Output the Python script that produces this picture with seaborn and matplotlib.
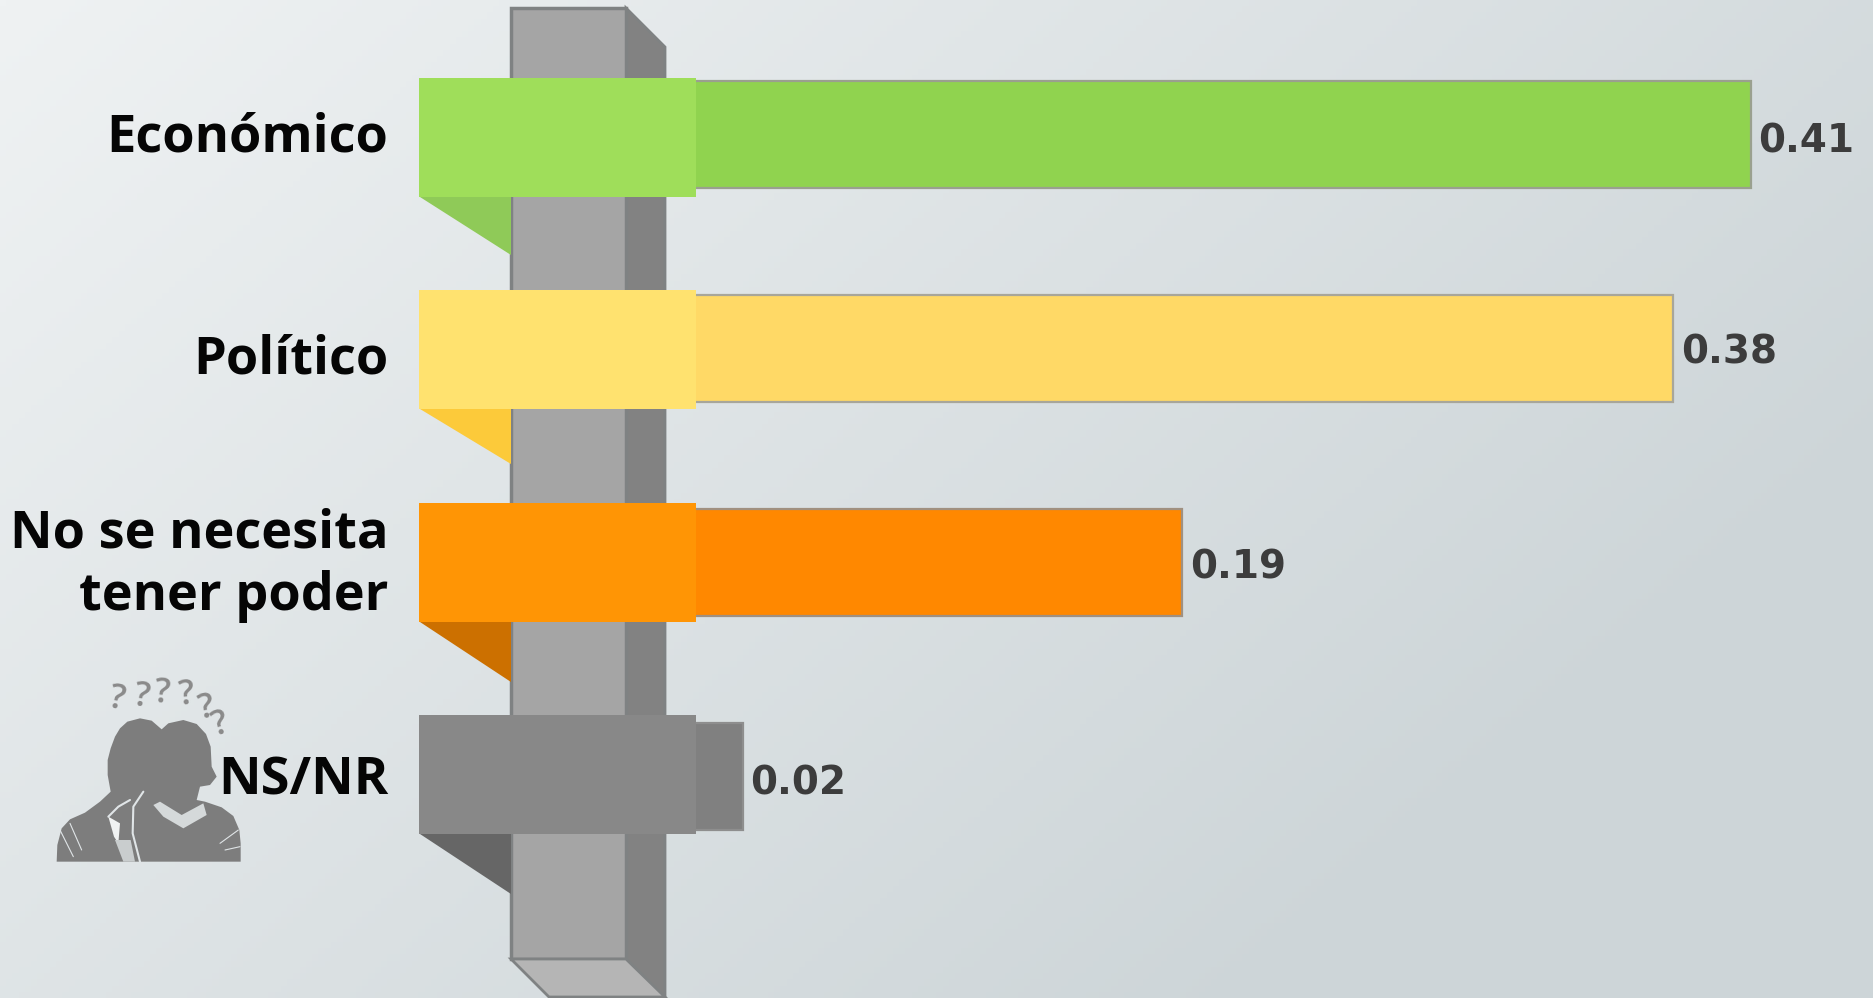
import numpy as np
import pandas as pd
import seaborn as sns
import matplotlib.pyplot as plt
from matplotlib.patches import Polygon, Rectangle
from matplotlib.transforms import ScaledTranslation

categorias = ["Económico", "Político", "No se necesita\ntener poder", "NS/NR"]
valores = [0.41, 0.38, 0.19, 0.02]
col_barra = ["#90d34f", "#ffd966", "#ff8800", "#808080"]
col_borde = ["#9aa08f", "#a8a69a", "#a09080", "#8e8e8e"]
col_cinta = ["#9fde5a", "#ffe26f", "#ff9505", "#888888"]
col_pliegue = ["#8fca58", "#fcca3a", "#cc7000", "#666666"]
cinta_top = [78, 290, 503, 715]
pliegue_alto = [58, 55, 60, 60]
ajuste_label = [-3, 5, -8, -2]
ajuste_valor = [-5, -3, -3.5, -5]

W, H = 1873, 998
X0, ESC = 691, 2585
sns.set_theme(style="white")
plt.rcParams["font.family"] = ["Open Sans", "DejaVu Sans"]

df = pd.DataFrame({"categoria": categorias, "valor": valores})
fig = plt.figure(figsize=(W / 100, H / 100), dpi=100)


def capa(pos, z):
    a = fig.add_axes(pos, zorder=z)
    a.patch.set_alpha(0)
    a.set_axis_off()
    return a


# fondo y columna, en pixeles
bg = capa([0, 0, 1, 1], 0)
xx, yy = np.meshgrid(np.linspace(0, 1, 300), np.linspace(0, 1, 160))
t = np.clip((xx * 0.62 + yy * 0.38) / 0.8, 0, 1)
c0, c1 = np.array([0xef, 0xf2, 0xf3]) / 255, np.array([0xcd, 0xd5, 0xd8]) / 255
img = c0 + (c1 - c0) * t[..., None]
bg.imshow(img, extent=(0, W, H, 0), aspect="auto", zorder=0)
bg.set_xlim(0, W)
bg.set_ylim(H, 0)

borde = "#7f8283"
bg.add_patch(Polygon([(626, 8), (665, 47), (665, 998), (626, 998)], fc="#828282", ec=borde, lw=2, zorder=1))
bg.add_patch(Rectangle((511, 8), 115, 951, fc="#a5a5a5", ec=borde, lw=2.5, zorder=2))
bg.add_patch(Polygon([(511, 959), (626, 959), (665, 997), (549, 997)], fc="#b5b5b5", ec=borde, lw=2, zorder=3))

for top, alto, c in zip(cinta_top, pliegue_alto, col_pliegue):
    b = top + 119
    bg.add_patch(Polygon([(420, b), (511, b), (511, b + alto)], fc=c, ec="none", zorder=4))


# icono NS/NR (coordenadas de la silueta)
def pt(lst):
    return [(40 + x / 3, 660 + y / 3) for x, y in lst]


gris = "#7d7d7d"
fondo = "#e0e5e7"
sil = [(203, 300), (212, 265), (225, 230), (240, 205), (262, 185), (300, 175), (335, 182), (365, 208),
       (385, 190), (430, 180), (470, 192), (498, 222), (512, 260), (515, 320), (530, 350), (510, 375),
       (480, 380), (470, 420), (495, 425), (545, 442), (580, 468), (598, 510), (602, 550), (602, 605),
       (50, 605), (52, 555), (65, 505), (90, 478), (135, 458), (180, 425), (212, 395), (203, 345)]
bg.add_patch(Polygon(pt(sil), fc=gris, ec="none", zorder=5))
cuello = [(340, 435), (360, 425), (425, 465), (490, 430), (500, 465), (430, 505), (370, 470)]
bg.add_patch(Polygon(pt(cuello), fc="#d5d9da", ec="none", zorder=6))
bg.plot(*zip(*pt([(310, 395), (280, 440), (278, 520), (300, 605)])), color=fondo, lw=1.5, zorder=6)
bg.plot(*zip(*pt([(205, 470), (235, 440), (270, 420)])), color=fondo, lw=1.5, zorder=6)
bg.add_patch(Polygon(pt([(205, 470), (240, 490), (235, 550), (222, 530)]), fc="#f0f2f2", ec="none", zorder=6))
bg.add_patch(Polygon(pt([(225, 540), (250, 605), (285, 605), (272, 540)]), fc="#c9cdce", ec="none", zorder=6))
for a, b_, d, e in [(60, 510, 100, 590), (90, 490, 125, 570), (595, 510, 540, 550), (600, 560, 555, 570)]:
    bg.plot(*zip(*pt([(a, b_), (d, e)])), color=fondo, lw=0.8, zorder=6)
for x, y, r in [(232, 120, -10), (305, 112, -8), (368, 100, -4), (440, 105, 6), (500, 145, 12), (540, 195, 18)]:
    bg.text(40 + x / 3, 660 + y / 3, "?", fontsize=25, color="#8a8a8a", rotation=r, fontweight="semibold",
            ha="center", va="center", family="Open Sans", zorder=6)

# barras
left = 400
ax = fig.add_axes([left / W, 0, (W - left) / W, 1], zorder=1)
ax.patch.set_alpha(0)
sns.barplot(data=df, y="categoria", x="valor", hue="categoria", palette=col_barra, hue_order=categorias,
            width=0.5, saturation=1, linewidth=1.6, legend=False, ax=ax)
for barra, c in zip(ax.patches, col_borde):
    barra.set_edgecolor(c)
ax.set_xlim((left - X0) / ESC, (W - X0) / ESC)
ax.set_ylim((H - 134.5) / 214, -134.5 / 214)
sns.despine(ax=ax, left=True, bottom=True)
ax.set_xlabel("")
ax.set_ylabel("")
ax.set_xticks([])
ax.tick_params(axis="y", length=0, pad=8.5)
for lab, dy in zip(ax.get_yticklabels(), ajuste_label):
    lab.set_fontsize(37.6)
    lab.set_fontweight("bold")
    lab.set_color("#050505")
    lab.set_linespacing(1.235)
    lab.set_transform(lab.get_transform() + ScaledTranslation(0, -dy / 100, fig.dpi_scale_trans))
for i, v in enumerate(valores):
    ax.annotate(f"{v:.2f}", (v, i), xytext=(5.5, ajuste_valor[i]), textcoords="offset points", ha="left",
                va="center", fontsize=28, fontweight="bold", color="#3c3c3c", family="DejaVu Sans")

# cintas por encima de las barras
top_ax = capa([0, 0, 1, 1], 2)
top_ax.set_xlim(0, W)
top_ax.set_ylim(H, 0)
for top, c in zip(cinta_top, col_cinta):
    top_ax.add_patch(Rectangle((419, top), 277, 119, fc=c, ec="none"))

plt.savefig("out.png", dpi=100)
